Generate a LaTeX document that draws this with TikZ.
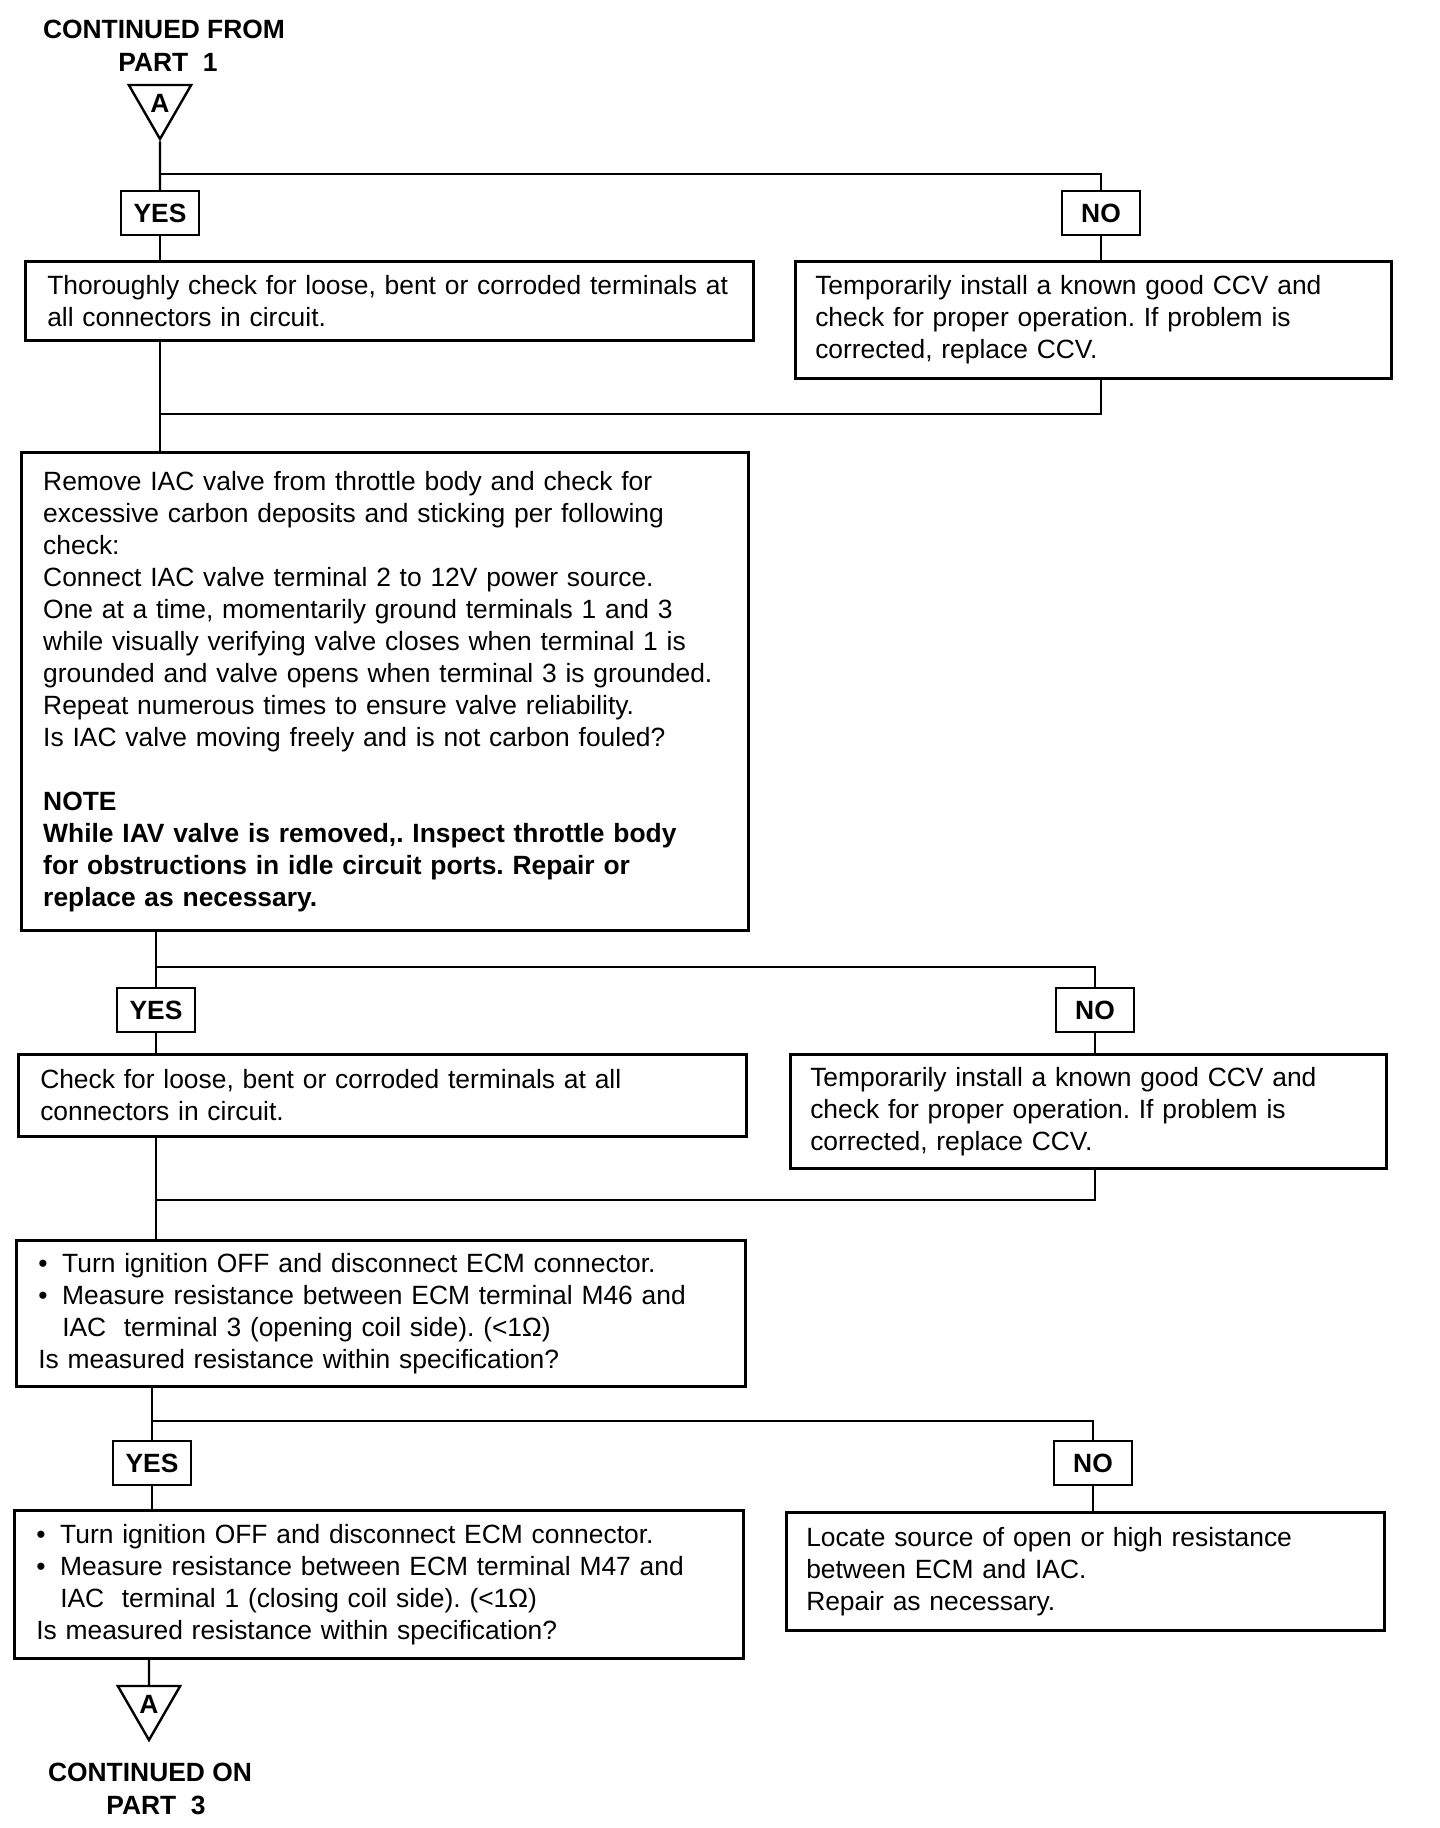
\documentclass[tikz,border=0pt]{standalone}
\usepackage{fontspec}
\setmainfont{Liberation Sans}
\usetikzlibrary{shapes.geometric}
\frenchspacing

\newcommand{\bitem}{\makebox[12pt][l]{\textbullet}}
\newcommand{\bhang}{\hspace*{12pt}}

\begin{document}
\begin{tikzpicture}[
    x=0.5pt, y=-0.5pt,
    font=\fontsize{13.2}{16}\selectfont,
    stepbox/.style={draw, line width=1.25pt, anchor=north west, align=left,
                    inner xsep=11pt, inner ysep=0pt},
    rightbox/.style={stepbox, inner xsep=10pt},
    answer/.style={draw, line width=1.25pt, font=\fontsize{13.2}{16}\selectfont\bfseries,
                   minimum width=39pt, minimum height=22pt, inner sep=0pt},
    offpage/.style={draw, line width=1.2pt, regular polygon, regular polygon sides=3,
                    shape border rotate=180, minimum size=36pt, inner sep=0pt,
                    font=\fontsize{13.2}{16}\selectfont\bfseries},
    headtext/.style={font=\fontsize{13.2}{16}\selectfont\bfseries},
    link/.style={line width=1.15pt}
  ]
  \useasboundingbox (0,0) rectangle (1440,1828);

  % Entry from part 1
  \node[headtext] (fromtxt) at (164,29) {CONTINUED FROM};
  \node[headtext] (frompart) at (168,62) {PART\ \ 1};
  \node[offpage] (conA) at (160,103) {A};

  % First check
  \node[answer] (yes1) at (160,213) {YES};
  \node[answer] (no1) at (1101,213) {NO};
  \node[stepbox, text width=342pt, minimum height=39.5pt] (box1) at (24,260)
    {Thoroughly check for loose, bent or corroded terminals at\\
     all connectors in circuit.};
  \node[rightbox, text width=278pt, minimum height=58.5pt] (box2) at (794,260)
    {Temporarily install a known good CCV and\\
     check for proper operation. If problem is\\
     corrected, replace CCV.};

  \coordinate (fork1) at (160,174);
  \coordinate (join1) at (160,414);
  \draw[link] (conA) -- (yes1);
  \draw[link] (fork1) -| (no1);
  \draw[link] (yes1) -- (yes1 |- box1.north);
  \draw[link] (no1) -- (no1 |- box2.north);
  \draw[link] (no1 |- box2.south) |- (join1);

  % IAC valve check
  \node[stepbox, text width=341.5pt, minimum height=239pt] (box3) at (20,451)
    {Remove IAC valve from throttle body and check for\\
     excessive carbon deposits and sticking per following\\
     check:\\
     Connect IAC valve terminal 2 to 12V power source.\\
     One at a time, momentarily ground terminals 1 and 3\\
     while visually verifying valve closes when terminal 1 is\\
     grounded and valve opens when terminal 3 is grounded.\\
     Repeat numerous times to ensure valve reliability.\\
     Is IAC valve moving freely and is not carbon fouled?\\[16pt]
     \bfseries NOTE\\
     While IAV valve is removed,. Inspect throttle body\\
     for obstructions in idle circuit ports. Repair or\\
     replace as necessary.};
  \draw[link] (yes1 |- box1.south) -- (yes1 |- box3.north);

  \node[answer] (yes2) at (156,1010) {YES};
  \node[answer] (no2) at (1095,1010) {NO};
  \node[stepbox, text width=342pt, minimum height=41pt] (box4) at (17,1053)
    {Check for loose, bent or corroded terminals at all\\
     connectors in circuit.};
  \node[rightbox, text width=278pt, minimum height=57pt] (box5) at (789,1053)
    {Temporarily install a known good CCV and\\
     check for proper operation. If problem is\\
     corrected, replace CCV.};

  \coordinate (fork2) at (156,967);
  \coordinate (join2) at (156,1200);
  \draw[link] (yes2 |- box3.south) -- (yes2);
  \draw[link] (fork2) -| (no2);
  \draw[link] (yes2) -- (yes2 |- box4.north);
  \draw[link] (no2) -- (no2 |- box5.north);
  \draw[link] (no2 |- box5.south) |- (join2);

  % Opening coil circuit
  \node[stepbox, text width=342.5pt, minimum height=73pt] (box6) at (15,1239)
    {\bitem Turn ignition OFF and disconnect ECM connector.\\
     \bitem Measure resistance between ECM terminal M46 and\\
     \bhang IAC\ \ terminal 3 (opening coil side). (<1Ω)\\
     Is measured resistance within specification?};
  \draw[link] (yes2 |- box4.south) -- (yes2 |- box6.north);

  \node[answer] (yes3) at (152,1463) {YES};
  \node[answer] (no3) at (1093,1463) {NO};
  \node[stepbox, text width=342.5pt, minimum height=74pt] (box7) at (13,1509)
    {\bitem Turn ignition OFF and disconnect ECM connector.\\
     \bitem Measure resistance between ECM terminal M47 and\\
     \bhang IAC\ \ terminal 1 (closing coil side). (<1Ω)\\
     Is measured resistance within specification?};
  \node[rightbox, text width=279pt, minimum height=59pt] (box8) at (785,1511)
    {Locate source of open or high resistance\\
     between ECM and IAC.\\
     Repair as necessary.};

  \coordinate (fork3) at (152,1421);
  \draw[link] (yes3 |- box6.south) -- (yes3);
  \draw[link] (fork3) -| (no3);
  \draw[link] (yes3) -- (yes3 |- box7.north);
  \draw[link] (no3) -- (no3 |- box8.north);

  % Exit to part 3
  \node[offpage] (conB) at (149,1704) {A};
  \draw[link] (conB |- box7.south) -- (conB);
  \node[headtext] (ontxt) at (150,1772) {CONTINUED ON};
  \node[headtext] (onpart) at (156,1805) {PART\ \ 3};

\end{tikzpicture}
\end{document}
